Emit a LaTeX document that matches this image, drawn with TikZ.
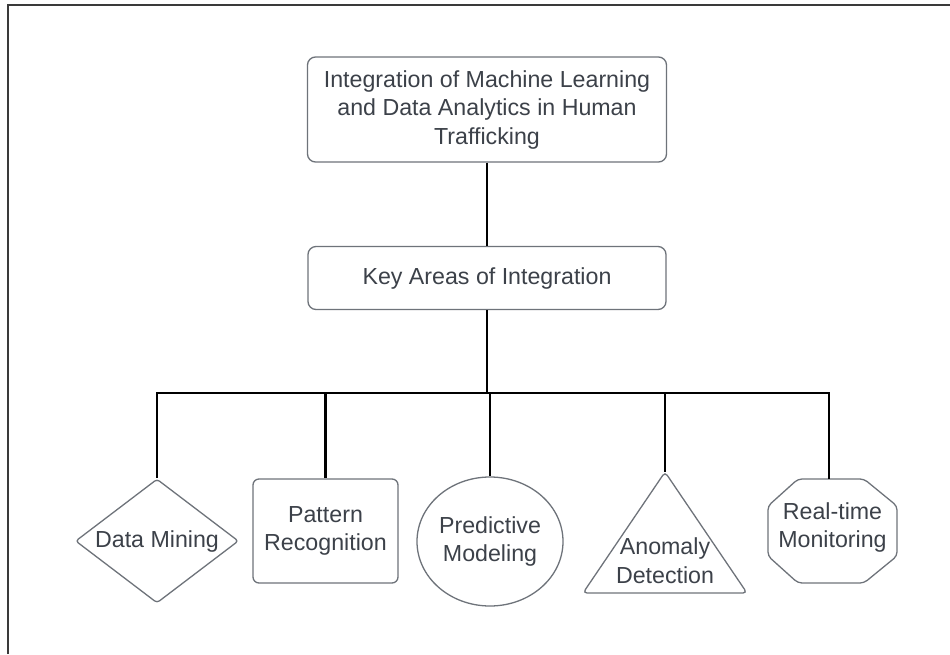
\documentclass[tikz,border=0pt]{standalone}
\usepackage{fontspec}
\setmainfont{Liberation Sans}
\usepackage{xcolor}
\usetikzlibrary{positioning,shapes.geometric}
\definecolor{inkgray}{HTML}{3C4149}
\definecolor{edgegray}{HTML}{6E737A}
\definecolor{framegray}{HTML}{3A3A3A}
\tikzset{
  shapebase/.style={draw=edgegray,fill=white,line width=1.3pt,text=inkgray,
                    align=center,inner sep=0pt,
                    font=\fontsize{23.2}{28.5}\selectfont},
  leaftext/.style={text=inkgray,align=center,inner sep=0pt,
                   font=\fontsize{23.2}{28.5}\selectfont},
  outline/.style={draw=edgegray,line width=1.3pt,rounded corners=4pt},
  topbox/.style={shapebase,rounded corners=8pt},
  leafbox/.style={shapebase,rounded corners=6pt},
  leafdiamond/.style={shapebase,diamond,aspect=1.31,rounded corners=3pt},
  leafoval/.style={shapebase,ellipse},
  branch/.style={line width=2.2pt,draw=black}
}
\begin{document}
\begin{tikzpicture}[x=1pt,y=-1pt]
    \path[use as bounding box] (0,0) rectangle (950,654);
    \draw[line width=2pt,draw=framegray] (8,654) |- (950,5);

    \node[topbox,minimum width=359pt,minimum height=105pt] (title) at (487,109.5)
      {Integration of Machine Learning\\and Data Analytics in Human\\Trafficking};
    \node[topbox,minimum width=358pt,minimum height=63pt] (areas) at (487,278)
      {Key Areas of Integration};
    \draw[branch] (title.south) -- (areas.north);
    \coordinate (bus) at (areas.south |- 0,393);
    \draw[branch] (areas.south) -- (bus);

    \node[leafdiamond,minimum width=163pt,minimum height=124pt] (mining) at (157,541)
      {Data Mining};
    \node[leafbox,minimum width=145pt,minimum height=104pt] (pattern) at (325.5,531)
      {Pattern\\Recognition};
    \node[leafoval,minimum width=146pt,minimum height=129pt] (predict) at (490,541.5)
      {Predictive\\Modeling};

    % triangle and octagon drawn round their text
    \coordinate (anomalytop) at (665,472);
    \draw[outline] (anomalytop) -- (747,593) -- (583,593) -- cycle;
    \node[leaftext] (anomaly) at (665,560.5) {Anomaly\\Detection};
    \coordinate (realtimetop) at (829,479);
    \draw[outline] (798,479) -- (864,479) -- (897,506) -- (897,556)
      -- (864,583) -- (798,583) -- (768,556) -- (768,506) -- cycle;
    \node[leaftext] (realtime) at (832.5,527.5) {Real-time\\Monitoring};

    \foreach \leaf in {mining.north,pattern.north,predict.north,anomalytop,realtimetop}
      \draw[branch] (bus) -| (\leaf);
  \end{tikzpicture}
\end{document}
